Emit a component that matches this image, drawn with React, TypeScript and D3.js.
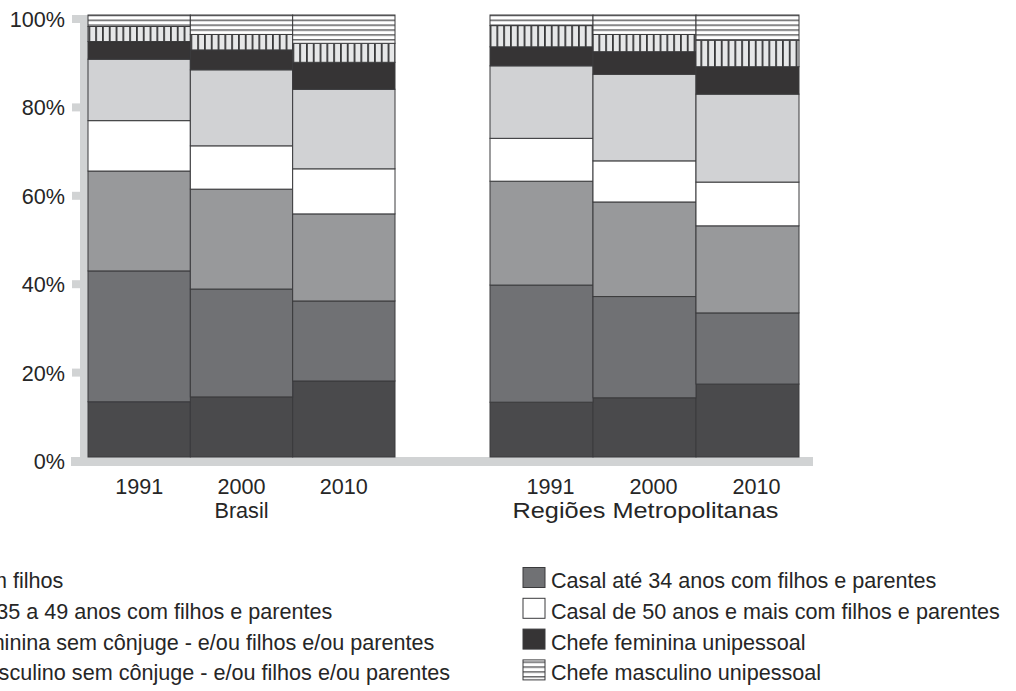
import React from "react";
import * as d3 from "d3";

const years = ["1991", "2000", "2010"];
const groups = ["Brasil", "Regiões Metropolitanas"];
const yTicks = [0, 20, 40, 60, 80, 100];

const seriesNames = [
  "Casal sem filhos",
  "Casal até 34 anos com filhos e parentes",
  "Casal de 35 a 49 anos com filhos e parentes",
  "Casal de 50 anos e mais com filhos e parentes",
  "Chefe feminina sem cônjuge - e/ou filhos e/ou parentes",
  "Chefe feminina unipessoal",
  "Chefe masculino sem cônjuge - e/ou filhos e/ou parentes",
  "Chefe masculino unipessoal",
];

// values: Brasil 1991, 2000, 2010, RM 1991, 2000, 2010
const casalSemFilhos = [12.5, 13.6, 17.2, 12.4, 13.4, 16.5];
const casalAte34 = [29.6, 24.4, 18.1, 26.5, 22.9, 16.1];
const casal35a49 = [22.6, 22.6, 19.7, 23.5, 21.4, 19.7];
const casal50mais = [11.4, 9.8, 10.2, 9.7, 9.3, 9.9];
const chefeFemSemConjuge = [13.9, 17.2, 18.0, 16.4, 19.6, 19.9];
const chefeFemUnipessoal = [4.0, 4.5, 6.1, 4.3, 5.1, 6.2];
const chefeMascSemConjuge = [3.4, 3.5, 4.3, 4.8, 3.9, 6.0];
const chefeMascUnipessoal = [2.6, 4.4, 6.4, 2.4, 4.4, 5.7];

const seriesValues = [
  casalSemFilhos,
  casalAte34,
  casal35a49,
  casal50mais,
  chefeFemSemConjuge,
  chefeFemUnipessoal,
  chefeMascSemConjuge,
  chefeMascUnipessoal,
];

const fills = [
  "#4a4a4c",
  "#707174",
  "#98999b",
  "#ffffff",
  "#d1d2d4",
  "#363435",
  "url(#vstripe)",
  "url(#hstripe)",
];

const FONT = "'Liberation Sans', Arial, Helvetica, sans-serif";
const TEXT = "#262626";
const AXIS = "#d1d3d4";

export default function App() {
  const W = 1016;
  const H = 691;
  const y = d3.scaleLinear().domain([0, 100]).range([457, 15]);
  const xGroups = [
    d3.scaleBand<string>().domain(years).range([88, 395]).padding(0),
    d3.scaleBand<string>().domain(years).range([490, 799]).padding(0),
  ];

  const keys = seriesNames.map((_, i) => "s" + i);
  const rows = groups.flatMap((g, gi) =>
    years.map((yr, yi) => {
      const r: any = { group: gi, year: yr };
      seriesValues.forEach((arr, si) => (r["s" + si] = arr[gi * 3 + yi]));
      return r;
    })
  );
  const stacked = d3.stack<any>().keys(keys)(rows);

  const labelOffset = [0, 9];

  return (
    <svg
      width={W}
      height={H}
      style={{ position: "absolute", left: 0, top: 0, background: "#fff" }}
      fontFamily={FONT}
    >
      <defs>
        <pattern id="vstripe" patternUnits="userSpaceOnUse" width={6.8} height={10}>
          <rect width={6.8} height={10} fill="#e6e7e8" />
          <rect x={0} width={1.8} height={10} fill="#38383a" />
        </pattern>
        <pattern id="hstripe" patternUnits="userSpaceOnUse" width={10} height={4.9}>
          <rect width={10} height={4.9} fill="#ffffff" />
          <rect y={0} width={10} height={1.3} fill="#4a4a4c" />
        </pattern>
      </defs>

      {/* axes */}
      <rect x={80} y={y(100)} width={8} height={466 - y(100)} fill={AXIS} />
      <rect x={71} y={457} width={813 - 71} height={9} fill={AXIS} />
      {yTicks.map((t) => (
        <g key={t}>
          {t > 0 && <rect x={72} y={y(t)} width={8} height={8} fill={AXIS} />}
          <text
            x={65}
            y={y(t) + 12}
            textAnchor="end"
            fontSize={21.6}
            fill={TEXT}
          >
            {t}%
          </text>
        </g>
      ))}

      {/* bars */}
      {stacked.map((layer, li) => (
        <g key={li}>
          {layer.map((d, i) => {
            const row = rows[i];
            const xs = xGroups[row.group];
            return (
              <rect
                key={i}
                x={xs(row.year)!}
                y={y(d[1])}
                width={xs.bandwidth()}
                height={y(d[0]) - y(d[1])}
                fill={fills[li]}
                stroke="#3a3a3c"
                strokeWidth={1}
              />
            );
          })}
        </g>
      ))}

      {/* x labels */}
      {groups.map((g, gi) => {
        const xs = xGroups[gi];
        return (
          <g key={g}>
            {years.map((yr) => (
              <text
                key={yr}
                x={xs(yr)! + xs.bandwidth() / 2 + labelOffset[gi]}
                y={494}
                textAnchor="middle"
                fontSize={21.6}
                fill={TEXT}
              >
                {yr}
              </text>
            ))}
            <text
              x={xs("2000")! + xs.bandwidth() / 2 + (gi === 0 ? 0 : 1)}
              y={518}
              textAnchor="middle"
              fontSize={21.6}
              fill={TEXT}
              {...(gi === 1 ? { textLength: 266, lengthAdjust: "spacingAndGlyphs" } : {})}
            >
              {g}
            </text>
          </g>
        );
      })}

      {/* legend */}
      {seriesNames.map((name, i) => {
        const col = i % 2;
        const row = Math.floor(i / 2);
        const sx = col === 0 ? -123 : 523;
        const top = 567.5 + row * 30.8;
        return (
          <g key={name}>
            <rect
              x={sx}
              y={top}
              width={22}
              height={20}
              fill={fills[i]}
              stroke="#3a3a3c"
              strokeWidth={1}
            />
            <text x={sx + 28} y={top + 13 + 7.5} fontSize={21.6} fill={TEXT}>
              {name}
            </text>
          </g>
        );
      })}
    </svg>
  );
}
